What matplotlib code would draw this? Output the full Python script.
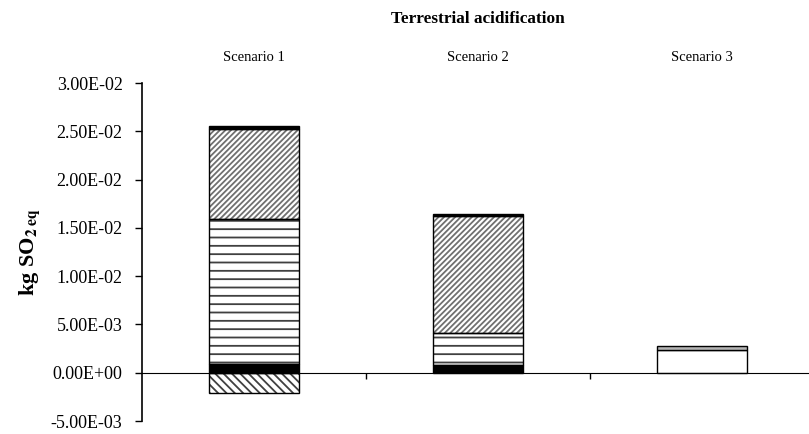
#%% 1 导入库和设置
import matplotlib
matplotlib.use("Agg")
import matplotlib.pyplot as plt
from matplotlib import rcParams
import matplotlib.transforms as mtransforms
import numpy as np

rcParams['font.family'] = ['Liberation Serif', 'DejaVu Serif']
rcParams['mathtext.fontset'] = 'stix'
rcParams['axes.unicode_minus'] = False
rcParams['hatch.linewidth'] = 1.3

# 数据 (kg SO2 eq)
categories     = ['Scenario 1', 'Scenario 2', 'Scenario 3']
seg_black_base = [0.00093, 0.00080, 0.0]
seg_stripes    = [0.01500, 0.00330, 0.0]
seg_diag       = [0.00930, 0.01210, 0.0]
seg_black_top  = [0.00030, 0.00025, 0.0]
seg_white      = [0.0, 0.0, 0.00238]
seg_light      = [0.0, 0.0, 0.00041]
seg_negative   = [-0.00207, 0.0, 0.0]
yticks_vals    = [-0.005, 0.0, 0.005, 0.01, 0.015, 0.02, 0.025, 0.03]

# 样式: (数据, 填充色, 阴影, 阴影色)
stack = [
    (seg_black_base, 'black',   None,     None),
    (seg_stripes,    'white',   '--',     '#404040'),
    (seg_diag,       'white',   '//////', '#707070'),
    (seg_black_top,  'black',   None,     None),
    (seg_white,      'white',   None,     None),
    (seg_light,      '#b4b4b4', None,     None),
]

#%% 2 绘图
fig = plt.figure(figsize=(8.09, 4.34), dpi=100)
ax = fig.add_axes([142/809, 13/434, 672/809, 338/434])
x = np.arange(len(categories))
barw = 0.40

def draw_seg(vals, bottoms, face, hatch, hcol):
    vals = np.asarray(vals, dtype=float)
    keep = vals != 0
    if not keep.any():
        return
    xs, vs, bs = x[keep], vals[keep], bottoms[keep]
    if hatch:
        ax.bar(xs, vs, barw, bottom=bs, color=face, hatch=hatch,
               edgecolor=hcol, linewidth=0, zorder=2)
        ax.bar(xs, vs, barw, bottom=bs, facecolor='none',
               edgecolor='black', linewidth=1, zorder=3)
    else:
        ax.bar(xs, vs, barw, bottom=bs, color=face,
               edgecolor='black', linewidth=1, zorder=3)

bottom = np.zeros(len(categories))
for vals, face, hatch, hcol in stack:
    draw_seg(vals, bottom, face, hatch, hcol)
    bottom += np.asarray(vals)

draw_seg(seg_negative, np.zeros(len(categories)), 'white', '\\\\\\\\', '#404040')

#%% 3 坐标轴
ax.set_xlim(-0.5, 2.5)
ax.set_ylim(-0.005, 0.03)
ax.spines[['top', 'right']].set_visible(False)
ax.spines['bottom'].set_position(('data', 0))
ax.spines['bottom'].set_zorder(4)
ax.spines['left'].set_linewidth(1.2)
ax.set_xticks([0.5, 1.5])
ax.set_xticklabels([])
ax.tick_params(axis='x', direction='out', length=4, width=1)
ax.set_yticks(yticks_vals)
ax.set_yticklabels(['%.2E' % v for v in yticks_vals])
ax.tick_params(axis='y', direction='out', length=5, width=1, pad=9, labelsize=13)

trans = mtransforms.blended_transform_factory(ax.transData, ax.transAxes)
for xi, name in zip(x, categories):
    ax.text(xi, 1.074, name, transform=trans, ha='center', va='center', fontsize=10.5)

fig.text(478/809, 1 - 19/434, 'Terrestrial acidification', ha='center', va='center',
         fontsize=12.4, fontweight='bold')
fig.text(30/809, 1 - 252/434, r'kg SO$_{\mathbf{2\ eq}}$', rotation=90,
         ha='center', va='center', fontsize=16, fontweight='bold')

fig.savefig('out.png', dpi=100)
